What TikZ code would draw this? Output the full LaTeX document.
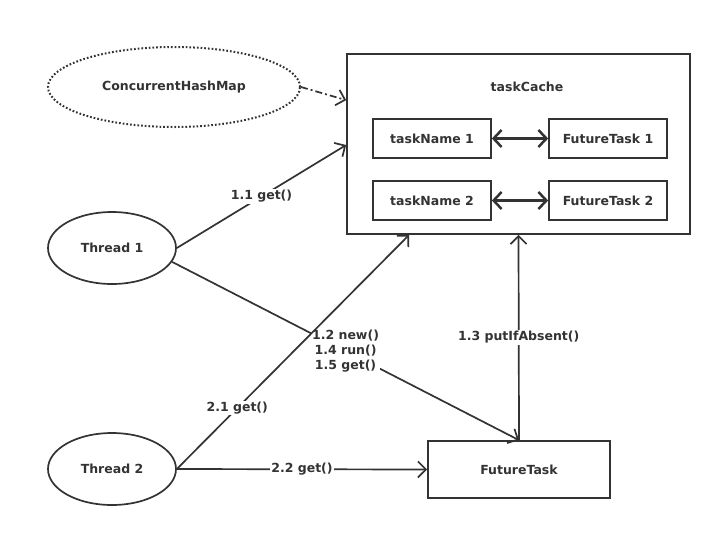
\documentclass[tikz,border=0pt]{standalone}
\usepackage{fontspec}
\setmainfont{DejaVu Sans}
\usetikzlibrary{arrows.meta,shapes.geometric,calc}
\definecolor{ink}{HTML}{333333}
\tikzset{
  every node/.style={font=\bfseries\fontsize{12.5}{15}\selectfont, text=ink},
  box/.style={draw=ink, line width=1.7pt, rectangle, inner sep=0pt},
  oval/.style={draw=ink, line width=1.7pt, ellipse, inner sep=0pt},
  arr/.style={draw=ink, line width=1.7pt, -{Straight Barb[length=8pt,width=16pt,line width=1.7pt]}},
  dbl/.style={draw=ink, line width=3pt, {Straight Barb[length=8pt,width=17pt,line width=2.5pt]}-{Straight Barb[length=8pt,width=17pt,line width=2.5pt]}},
  lbl/.style={fill=white, inner sep=1pt, align=center, font=\bfseries\fontsize{12.5}{15}\selectfont}
}
\begin{document}
\begin{tikzpicture}[x=1pt,y=-1pt]
\useasboundingbox[fill=white] (0,0) rectangle (722,536);
% nodes
\node[oval, dotted, line width=2pt, minimum width=252pt, minimum height=80pt] (chm) at (174,87) {ConcurrentHashMap};
\node[box, minimum width=343pt, minimum height=180pt] (tc) at (518.5,144) {};
\node (tcl) at (527,87) {taskCache};
\node[box, minimum width=118pt, minimum height=39pt] (tn1) at (432,138.5) {taskName 1};
\node[box, minimum width=118pt, minimum height=39pt] (ft1) at (608,138.5) {FutureTask 1};
\node[box, minimum width=118pt, minimum height=39pt] (tn2) at (432,200.5) {taskName 2};
\node[box, minimum width=118pt, minimum height=39pt] (ft2) at (608,200.5) {FutureTask 2};
\node[oval, minimum width=128pt, minimum height=72pt] (t1) at (112,248) {Thread 1};
\node[oval, minimum width=128pt, minimum height=72pt] (t2) at (112,469) {Thread 2};
\node[box, minimum width=182pt, minimum height=57pt] (ft) at (519,469.5) {FutureTask};
% connectors
\coordinate (chmEnd) at ([yshift=-47pt]tc.north west);
\draw[arr, dash pattern=on 7pt off 3pt on 2pt off 3pt] (chm.east) -- (chmEnd);
\draw[dbl] (tn1.east) -- (ft1.west);
\draw[dbl] (tn2.east) -- (ft2.west);
\draw[arr] (t1.east) -- node[lbl]{1.1 get()} ([yshift=-1pt]tc.west);
\draw[arr] (t1.-13) -- node[lbl]{1.2 new()\\1.4 run()\\1.5 get()} (ft.north);
\draw[arr] (t2.east) -- node[lbl, pos=0.26]{2.1 get()} ([xshift=63pt]tc.south west);
\draw[arr] (t2.east) -- node[lbl]{2.2 get()} (ft.west);
\draw[arr] (ft.north) -- node[lbl]{1.3 putIfAbsent()} (tc.south);
\end{tikzpicture}
\end{document}
